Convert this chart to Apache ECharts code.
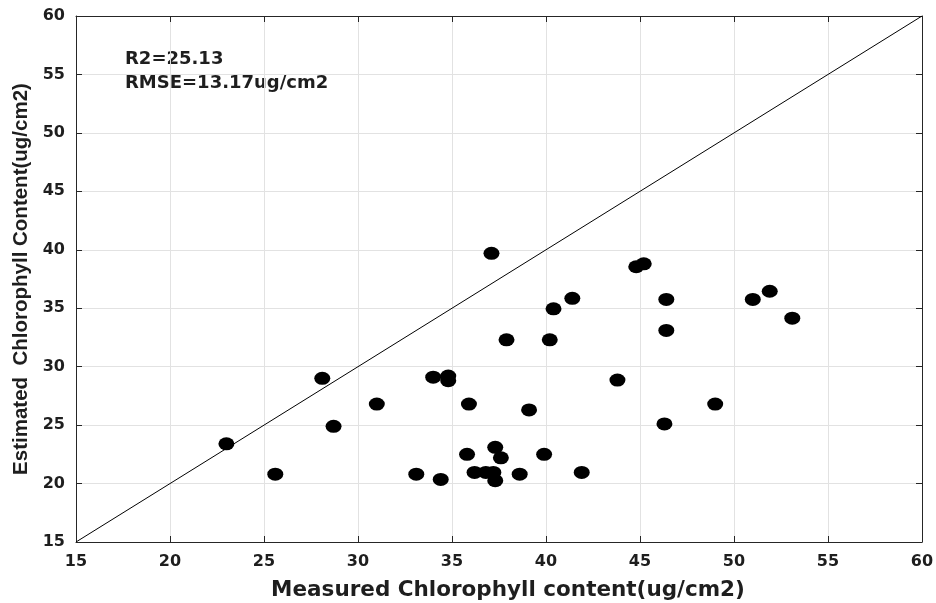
<!DOCTYPE html>
<html>
<head>
<meta charset="utf-8">
<script src="https://cdn.jsdelivr.net/npm/echarts@6/dist/echarts.min.js"></script>
<style>
  html, body { margin: 0; padding: 0; background: #fff; }
  #chart { width: 936px; height: 603px; }
</style>
</head>
<body>
<div id="chart"></div>
<script>
// measured vs estimated chlorophyll (ug/cm2)
const measured = [
  23.0, 25.6, 28.1, 28.7, 31.0, 33.1, 34.0, 34.8, 34.8, 34.4,
  35.9, 35.8, 36.2, 36.8, 37.2, 37.3, 37.1, 37.3, 37.6, 37.9,
  38.6, 39.1, 39.9, 40.2, 40.4, 41.4, 41.9, 43.8, 44.8, 45.2,
  46.3, 46.4, 46.4, 49.0, 51.0, 51.9, 53.1
];
const estimated = [
  23.4, 20.8, 29.0, 24.9, 26.8, 20.8, 29.1, 29.2, 28.8, 20.35,
  26.8, 22.5, 20.95, 20.95, 20.95, 20.25, 39.7, 23.1, 22.2, 32.3,
  20.8, 26.3, 22.5, 32.3, 34.95, 35.85, 20.95, 28.85, 38.55, 38.8,
  25.1, 33.1, 35.75, 26.8, 35.75, 36.45, 34.15
];
const refLine = [15, 60]; // 1:1 line ends
const axisMin = 15, axisMax = 60, axisStep = 5;
const xTitle = 'Measured Chlorophyll content(ug/cm2)';
const yTitle = 'Estimated  Chlorophyll Content(ug/cm2)';
const statLines = ['R2=25.13', 'RMSE=13.17ug/cm2'];

const points = measured.map((m, i) => [m, estimated[i]]);
const linePts = refLine.map(v => [v, v]);

const ink = '#1e1e1e';
const tickFont = { fontFamily: 'DejaVu Sans', fontWeight: 'bold', fontSize: 16, color: ink };

function valueAxis(pos, extra) {
  return Object.assign({
    type: 'value',
    position: pos,
    min: axisMin,
    max: axisMax,
    interval: axisStep,
    axisLine: { show: true, onZero: false, lineStyle: { color: '#262626', width: 1 } },
    axisTick: { show: true, inside: true, length: 6, lineStyle: { color: '#262626' } },
    splitLine: { show: false },
    axisLabel: { show: false }
  }, extra);
}

const chart = echarts.init(document.getElementById('chart'));
chart.setOption({
  backgroundColor: '#ffffff',
  animation: false,
  grid: { left: 76, right: 14, top: 16, bottom: 61, outerBoundsMode: 'none' },
  xAxis: [
    valueAxis('bottom', {
      name: xTitle,
      nameLocation: 'middle',
      nameGap: 37,
      nameTextStyle: {
        fontFamily: 'DejaVu Sans', fontWeight: 'bold', fontSize: 21.5, color: ink,
        padding: [0, 0, 0, 18]
      },
      splitLine: { show: true, lineStyle: { color: '#e2e2e2', width: 1 } },
      axisLabel: Object.assign({ show: true, margin: 12 }, tickFont)
    }),
    valueAxis('top', {})
  ],
  yAxis: [
    valueAxis('left', {
      name: yTitle,
      nameLocation: 'middle',
      nameGap: 40,
      nameTextStyle: { fontFamily: 'Liberation Sans', fontWeight: 'bold', fontSize: 20.5, color: ink },
      splitLine: { show: true, lineStyle: { color: '#e2e2e2', width: 1 } },
      axisLabel: Object.assign({ show: true, margin: 11 }, tickFont)
    }),
    valueAxis('right', {})
  ],
  graphic: statLines.map((t, i) => ({
    type: 'text',
    left: 125,
    top: 50 + i * 24,
    style: { text: t, fontFamily: 'DejaVu Sans', fontWeight: 'bold', fontSize: 18, fill: ink }
  })),
  series: [
    {
      type: 'line',
      data: linePts,
      showSymbol: false,
      lineStyle: { color: '#000', width: 1 },
      z: 2
    },
    {
      type: 'scatter',
      data: points,
      symbol: 'circle',
      symbolSize: [16, 13],
      itemStyle: { color: '#000', opacity: 1 },
      z: 3
    }
  ]
});
</script>
</body>
</html>
